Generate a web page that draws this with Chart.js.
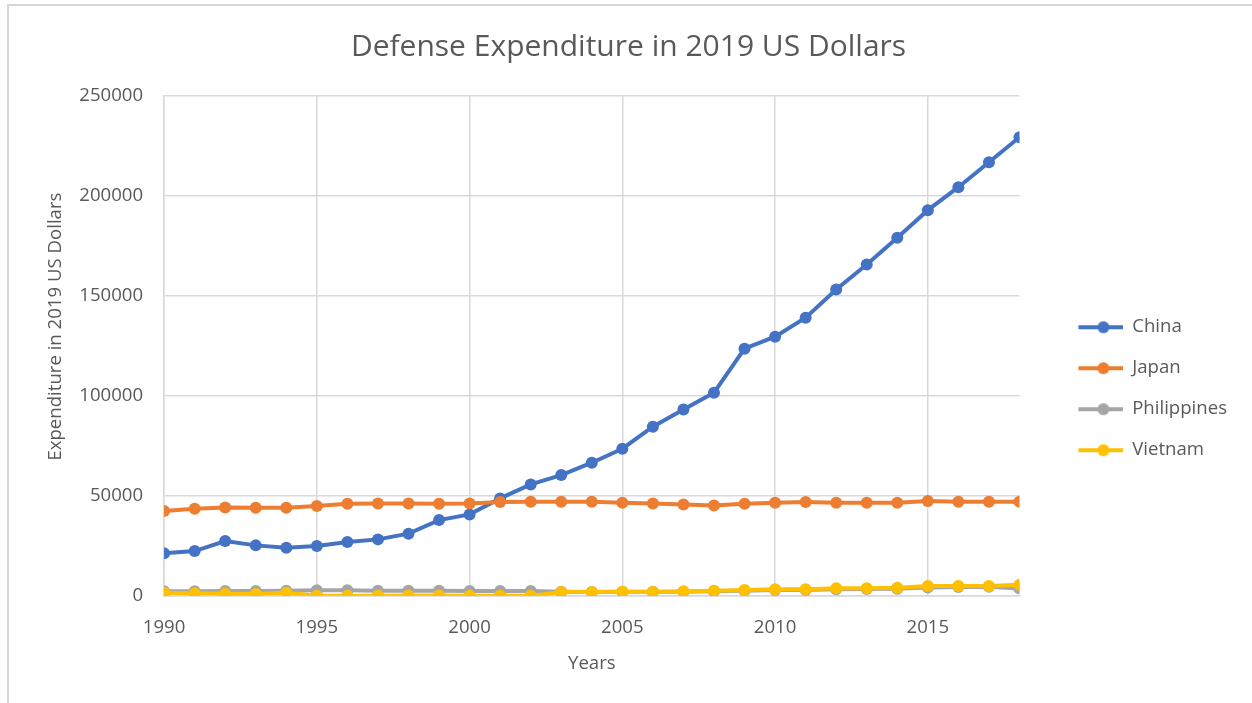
<!DOCTYPE html>
<html>
<head>
<meta charset="utf-8">
<script src="https://cdn.jsdelivr.net/npm/chart.js@4"></script>
<style>
  body { margin: 0; background: #fff; }
  #marco { position: absolute; left: 7px; top: 4px; width: 1250px; height: 703px;
           border-left: 2px solid #d6d6d6; border-top: 2px solid #d6d6d6; }
  #contenedor { position: absolute; left: 0; top: 0; width: 1252px; height: 703px; }
</style>
</head>
<body>
<div id="marco"></div>
<div id="contenedor"><canvas id="myChart"></canvas></div>
<script>
var anios = [1990, 1991, 1992, 1993, 1994, 1995, 1996, 1997, 1998, 1999,
             2000, 2001, 2002, 2003, 2004, 2005, 2006, 2007, 2008, 2009,
             2010, 2011, 2012, 2013, 2014, 2015, 2016, 2017, 2018];
var paises = ['China', 'Japan', 'Philippines', 'Vietnam'];
var china = [21250, 22400, 27400, 25250, 24100, 24900, 26900, 28250, 31100, 37900,
             40750, 48750, 55750, 60400, 66600, 73600, 84600, 93250, 101600, 123600,
             129600, 139100, 153250, 165750, 179100, 192900, 204400, 216900, 229400];
var japon = [42400, 43600, 44250, 44100, 44100, 44900, 46100, 46250, 46250, 46100,
             46250, 46900, 47100, 47100, 47100, 46600, 46250, 45750, 45250, 46100,
             46600, 46900, 46600, 46600, 46600, 47400, 47100, 47100, 47100];
var filipinas = [2300, 2300, 2400, 2400, 2500, 2750, 2750, 2600, 2600, 2600,
                 2400, 2400, 2400, 2000, 1900, 2000, 2000, 2100, 2300, 2600,
                 2900, 2900, 3300, 3400, 3600, 4200, 4400, 4500, 3700];
var vietnam = [1600, 1250, 1100, 900, 1600, 0, 0, 0, 200, 200,
               0, 0, 0, 1900, 1900, 2100, 1900, 2250, 2600, 2900,
               3250, 3250, 3750, 3750, 4100, 4900, 4900, 4900, 5600];
var ticksY = [0, 50000, 100000, 150000, 200000, 250000];
var ticksX = [1990, 1995, 2000, 2005, 2010, 2015];
var colores = ['#4472C4', '#ED7D31', '#A5A5A5', '#FFC000'];

var fuente = "'Open Sans', 'Noto Sans', sans-serif";
var gris = '#595959';
var rejilla = '#d9d9d9';

function puntos(valores){
    return anios.map(function(a, i){ return {x: a, y: valores[i]}; });
}

// muestra de la leyenda: trazo con el punto en medio
function muestra(color){
    var c = document.createElement('canvas');
    c.width = 82; c.height = 14;
    var g = c.getContext('2d');
    g.strokeStyle = color;
    g.lineWidth = 4;
    g.beginPath(); g.moveTo(37, 7); g.lineTo(82, 7); g.stroke();
    g.fillStyle = color;
    g.beginPath(); g.arc(62, 7, 6, 0, Math.PI * 2); g.fill();
    return c;
}

function crearGrafica(){
    var series = [china, japon, filipinas, vietnam];
    var datasets = series.map(function(s, i){
        return {
            label: paises[i],
            data: puntos(s),
            borderColor: colores[i],
            backgroundColor: colores[i],
            pointBackgroundColor: colores[i],
            pointBorderWidth: 0,
            pointRadius: 6,
            borderWidth: 4,
            tension: 0,
            order: series.length - i
        };
    });
    var muestras = colores.map(muestra);

    const ctx = document.getElementById('myChart').getContext('2d');
    const chart = new Chart(ctx, {
        type: 'line',
        data: { datasets: datasets },
        options: {
            responsive: true,
            maintainAspectRatio: false,
            animation: false,
            layout: { padding: { left: 20, right: 15, top: 0, bottom: 20 } },
            plugins: {
                title: {
                    display: true,
                    text: 'Defense Expenditure in 2019 US Dollars',
                    color: gris,
                    font: { family: fuente, size: 30, weight: 'normal' },
                    padding: { top: 29, bottom: 31 }
                },
                legend: {
                    position: 'right',
                    title: { display: true, text: ' ', padding: { top: 0, bottom: 80 } },
                    labels: {
                        usePointStyle: true,
                        pointStyleWidth: 81,
                        padding: 22.4,
                        color: gris,
                        font: { family: fuente, size: 18.6 },
                        generateLabels: function(chart){
                            return chart.data.datasets.map(function(ds, i){
                                return {
                                    text: ds.label,
                                    pointStyle: muestras[i],
                                    fillStyle: colores[i],
                                    strokeStyle: colores[i],
                                    lineWidth: 0,
                                    fontColor: gris,
                                    hidden: false,
                                    datasetIndex: i
                                };
                            });
                        }
                    }
                },
                tooltip: { enabled: false }
            },
            scales: {
                x: {
                    type: 'linear',
                    min: anios[0],
                    max: anios[anios.length - 1],
                    afterBuildTicks: function(eje){
                        eje.ticks = ticksX.map(function(v){ return {value: v}; });
                    },
                    ticks: {
                        color: gris,
                        padding: 20.5,
                        font: { family: fuente, size: 18.6 },
                        callback: function(v){ return String(v); }
                    },
                    grid: { color: rejilla, lineWidth: 1.5, drawTicks: false },
                    border: { color: rejilla, width: 1.5 },
                    title: {
                        display: true,
                        text: 'Years',
                        color: gris,
                        font: { family: fuente, size: 18.6 },
                        padding: { top: -6.5, bottom: 8 }
                    }
                },
                y: {
                    min: 0,
                    max: 250000,
                    afterBuildTicks: function(eje){
                        eje.ticks = ticksY.map(function(v){ return {value: v}; });
                    },
                    ticks: {
                        color: gris,
                        padding: 21,
                        font: { family: fuente, size: 18.6 },
                        callback: function(v){ return String(v); }
                    },
                    grid: { color: rejilla, lineWidth: 1.5, drawTicks: false },
                    border: { color: rejilla, width: 1.5 },
                    title: {
                        display: true,
                        text: '        Expenditure in 2019 US Dollars',
                        color: gris,
                        font: { family: fuente, size: 18.6 },
                        padding: { top: 25, bottom: -9 }
                    }
                }
            }
        }
    });
}

crearGrafica();
</script>
</body>
</html>
